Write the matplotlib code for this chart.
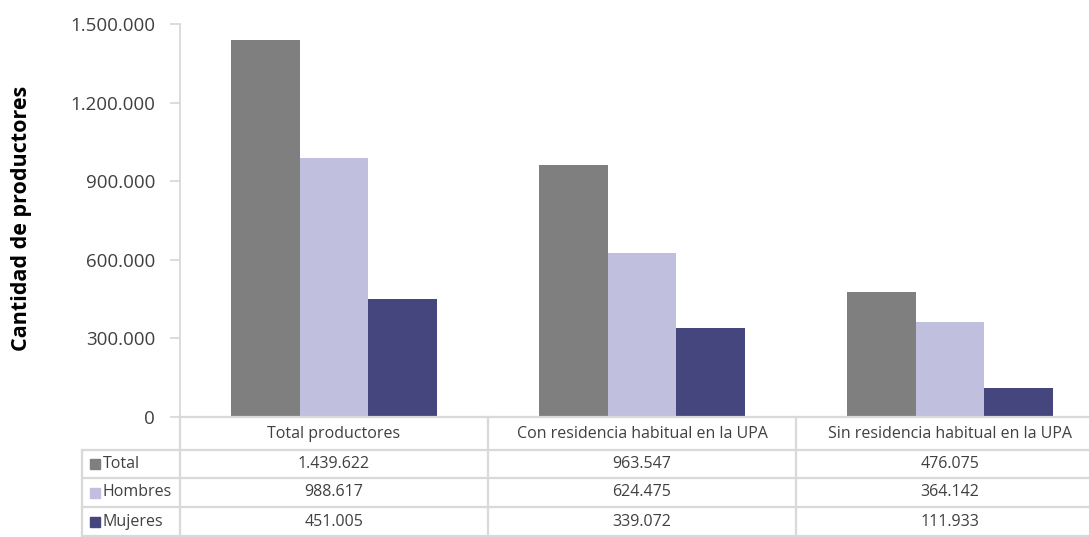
import numpy as np
import matplotlib.pyplot as plt
from matplotlib.ticker import FuncFormatter

categorias = ["Total productores", "Con residencia habitual en la UPA", "Sin residencia habitual en la UPA"]
series = ["Total", "Hombres", "Mujeres"]
total = [1439622, 963547, 476075]
hombres = [988617, 624475, 364142]
mujeres = [451005, 339072, 111933]
colores = ["#7f7f7f", "#c0c0de", "#46467e"]

plt.rcParams['font.family'] = ['Open Sans', 'DejaVu Sans']
texto = "#404040"
linea = "#d9d9d9"


def miles(v):
    return "{:,}".format(int(v)).replace(",", ".")


fig = plt.figure(figsize=(10.89, 5.37), dpi=100)
ax = fig.add_axes([180 / 1089, 120 / 537, 924 / 1089, 393 / 537])

x = np.arange(len(categorias))
ancho = 0.223
valores = [total, hombres, mujeres]
for i, (nombre, vals) in enumerate(zip(series, valores)):
    ax.bar(x + (i - 1) * ancho, vals, ancho, color=colores[i], label=nombre, zorder=2)

ax.set_xlim(-0.5, len(categorias) - 0.5)
ax.set_ylim(0, 1500000)
ax.set_yticks(np.arange(0, 1500001, 300000))
ax.yaxis.set_major_formatter(FuncFormatter(lambda v, p: miles(v)))
ax.tick_params(axis='y', colors=linea, labelcolor=texto, labelsize=13.5, length=7, width=1.3, pad=11)
ax.set_xticks([])
for lado in ["top", "right", "bottom"]:
    ax.spines[lado].set_visible(False)
ax.spines["left"].set_color(linea)
ax.spines["left"].set_linewidth(1.3)

fig.text(22 / 1089, 1 - 218 / 537, "Cantidad de productores", rotation=90, ha='center', va='center',
         fontsize=15.5, fontweight='bold', color="#000000")

# tabla de datos
tr = ax.get_xaxis_transform()


def ypx(p):
    return (417 - p) / 393.0


filas_y = [450, 478, 507, 536]
x_izq = -0.5 - 98 / 308.0
xmax = len(categorias) - 0.5
lw = 1.6
ax.plot([-0.5, xmax], [0, 0], transform=tr, color=linea, lw=lw, clip_on=False, zorder=3)
for yp in filas_y:
    ax.plot([x_izq, xmax], [ypx(yp), ypx(yp)], transform=tr, color=linea, lw=lw, clip_on=False)
ax.plot([x_izq, x_izq], [ypx(450), ypx(536)], transform=tr, color=linea, lw=lw, clip_on=False)
for xb in np.arange(-0.5, xmax + 0.01, 1.0):
    ax.plot([xb, xb], [0, ypx(536)], transform=tr, color=linea, lw=lw, clip_on=False)

for j, cat in enumerate(categorias):
    ax.text(j, ypx(434), cat, transform=tr, ha='center', va='center', fontsize=11.5, color=texto)

bordes = [417, 450, 478, 507, 536]
for i, (nombre, vals) in enumerate(zip(series, valores)):
    yc = ypx((bordes[i + 1] + bordes[i + 2]) / 2.0)
    ax.text(x_izq + 21 / 308.0, yc, nombre, transform=tr, ha='left', va='center', fontsize=11.5, color=texto)
    ax.plot([x_izq + 13 / 308.0], [yc], transform=tr, marker='s', markersize=7, color=colores[i],
            linestyle='none', clip_on=False)
    for j, v in enumerate(vals):
        ax.text(j, yc, miles(v), transform=tr, ha='center', va='center', fontsize=11.5, color=texto)

fig.savefig("out.png", dpi=100)
